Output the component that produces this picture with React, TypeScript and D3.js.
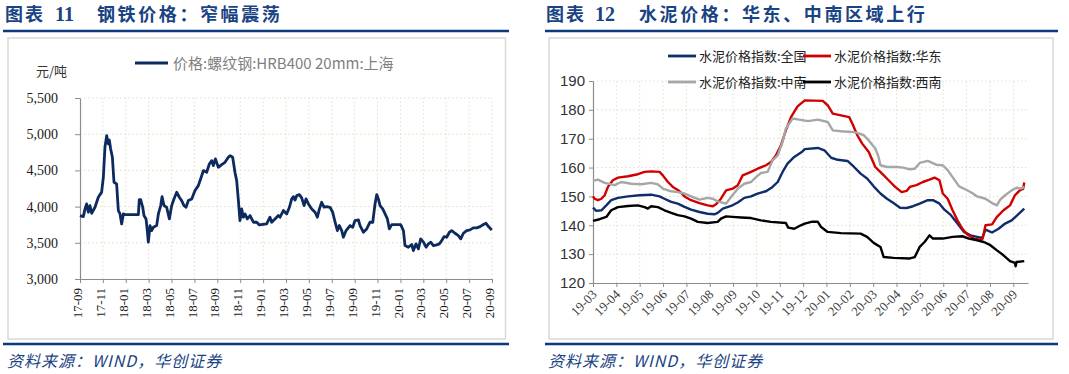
import * as d3 from 'd3';
import React, { useEffect, useRef } from 'react';

const WIDTH = 1069;
const HEIGHT = 374;

// 图表11：螺纹钢价格（元/吨），x = 自 2017-09 起的月数
const steelTickLabels = [
  '17-09', '17-11', '18-01', '18-03', '18-05', '18-07', '18-09', '18-11', '19-01', '19-03',
  '19-05', '19-07', '19-09', '19-11', '20-01', '20-03', '20-05', '20-07', '20-09',
];
const steelYTicks = [3000, 3500, 4000, 4500, 5000, 5500];
const steelPrice: [number, number][] = [
  [0, 3876], [0.29, 3862], [0.44, 3968], [0.58, 4037], [0.73, 3922], [0.87, 4014], [1.02, 3908],
  [1.31, 3991], [1.6, 4130], [1.89, 4200], [2.04, 4405], [2.18, 4819], [2.33, 4980], [2.48, 4865],
  [2.56, 4920], [2.68, 4796], [2.83, 4681], [2.97, 4336], [3.2, 4313], [3.35, 3945], [3.5, 3899],
  [3.64, 3761], [3.79, 3899], [3.93, 3890], [5.1, 3890], [5.18, 4097], [5.3, 4097], [5.48, 3991],
  [5.59, 3876], [5.77, 3830], [5.88, 3669], [5.97, 3508], [6.12, 3738], [6.26, 3669], [6.41, 3715],
  [6.7, 3738], [6.85, 3899], [7.05, 4014], [7.17, 4138], [7.34, 4014], [7.57, 3991], [7.81, 3830],
  [8.01, 4014], [8.21, 4106], [8.45, 4198], [8.68, 4129], [8.88, 4083], [9.09, 4014], [9.26, 3991],
  [9.47, 4083], [9.76, 4106], [10.05, 4221], [10.34, 4290], [10.54, 4382], [10.78, 4497],
  [11.07, 4474], [11.3, 4589], [11.51, 4635], [11.65, 4566], [11.83, 4658], [12.09, 4543],
  [12.38, 4580], [12.67, 4612], [12.96, 4681], [13.11, 4704], [13.34, 4681], [13.54, 4474],
  [13.69, 4359], [13.84, 4083], [13.98, 3807], [14.13, 3968], [14.27, 3853], [14.42, 3899],
  [14.62, 3830], [14.86, 3876], [15.15, 3784], [15.44, 3784], [15.67, 3747], [16.31, 3761],
  [16.6, 3853], [16.75, 3784], [17.04, 3830], [17.33, 3876], [17.48, 3853], [17.77, 3945],
  [18.06, 3899], [18.3, 3991], [18.5, 4106], [18.65, 4138], [18.79, 4090], [18.94, 4152],
  [19.17, 4166], [19.37, 4120], [19.58, 4014], [19.75, 4106], [19.96, 4037], [20.25, 3968],
  [20.54, 3922], [20.74, 3853], [20.92, 3968], [21.12, 4060], [21.32, 3991], [21.56, 4000],
  [21.85, 3991], [22.08, 3922], [22.29, 3784], [22.49, 3669], [22.66, 3738], [22.87, 3669],
  [23.01, 3577], [23.25, 3669], [23.6, 3738], [23.83, 3715], [24.03, 3807], [24.33, 3816],
  [24.47, 3738], [24.76, 3646], [25.05, 3692], [25.34, 3784], [25.58, 3784], [25.78, 4037],
  [25.93, 4166], [26.07, 4106], [26.22, 4014], [26.45, 3968], [26.66, 3899], [26.86, 3830],
  [27.03, 3692], [27.24, 3752], [27.67, 3752], [28.02, 3752], [28.26, 3669], [28.4, 3462],
  [28.69, 3439], [28.99, 3476], [29.13, 3393], [29.36, 3485], [29.57, 3416], [29.77, 3554],
  [30.01, 3508], [30.24, 3439], [30.44, 3485], [30.65, 3508], [30.88, 3462], [31.17, 3471],
  [31.4, 3485], [31.61, 3531], [31.81, 3586], [32.04, 3577], [32.28, 3646], [32.48, 3669],
  [32.77, 3632], [33.06, 3600], [33.27, 3554], [33.5, 3632], [33.79, 3669], [34.08, 3678],
  [34.37, 3706], [34.66, 3706], [34.96, 3724], [35.25, 3752], [35.48, 3770], [35.69, 3724],
  [35.98, 3678],
];

// 图表12：水泥价格指数，x = 自 2019-03 起的月数
const cementTickLabels = [
  '19-03', '19-04', '19-05', '19-06', '19-07', '19-08', '19-09', '19-10', '19-11', '19-12',
  '20-01', '20-02', '20-03', '20-04', '20-05', '20-06', '20-07', '20-08', '20-09',
];
const cementYTicks = [120, 130, 140, 150, 160, 170, 180, 190];
const cementNational: [number, number][] = [
  [0, 146.1], [0.14, 145.0], [0.36, 145.2], [0.57, 146.9], [0.78, 148.7], [1.07, 149.5], [1.5, 150.0],
  [1.99, 150.4], [2.49, 150.6], [2.85, 150.0], [3.06, 149.2], [3.35, 148.1], [3.63, 147.5],
  [3.92, 146.4], [4.2, 145.4], [4.56, 144.6], [4.91, 144.0], [5.2, 143.8], [5.34, 144.3],
  [5.56, 145.8], [5.91, 146.7], [6.2, 147.9], [6.48, 149.5], [6.77, 150.0], [7.05, 151.0],
  [7.41, 151.8], [7.69, 153.3], [7.91, 155.0], [8.12, 158.5], [8.33, 161.4], [8.62, 163.7],
  [8.97, 165.6], [9.07, 166.4], [9.63, 166.8], [9.91, 166.0], [10.2, 163.4], [10.48, 162.7],
  [10.9, 162.3], [11.18, 160.2], [11.46, 157.9], [11.74, 156.2], [12.02, 153.5], [12.31, 151.0],
  [12.59, 149.2], [12.87, 147.7], [13.15, 146.1], [13.43, 146.0], [13.71, 146.6], [13.99, 147.5],
  [14.34, 148.7], [14.56, 148.7], [14.84, 147.5], [15.05, 145.4], [15.33, 143.5], [15.61, 140.6],
  [15.89, 137.7], [16.17, 136.5], [16.45, 136.0], [16.67, 135.6], [16.81, 138.5], [17.09, 137.5],
  [17.37, 138.8], [17.65, 140.6], [17.93, 141.7], [18.21, 143.8], [18.47, 145.8],
];
const cementEast: [number, number][] = [
  [0, 150.0], [0.07, 149.2], [0.21, 148.7], [0.36, 149.2], [0.5, 150.4], [0.64, 153.3], [0.85, 155.6],
  [1.07, 156.5], [1.5, 157.0], [1.92, 157.7], [2.21, 158.5], [2.49, 158.7], [2.85, 158.5],
  [2.99, 157.3], [3.21, 155.0], [3.42, 153.3], [3.7, 151.9], [3.92, 150.0], [4.2, 148.7],
  [4.56, 147.7], [4.91, 146.9], [5.13, 146.6], [5.27, 147.3], [5.48, 149.2], [5.7, 152.1],
  [5.98, 152.7], [6.2, 153.9], [6.41, 157.3], [6.77, 158.5], [7.05, 159.6], [7.41, 160.8],
  [7.62, 161.9], [7.83, 164.2], [8.05, 167.7], [8.26, 172.9], [8.48, 177.5], [8.76, 181.2],
  [9.07, 183.3], [9.84, 183.1], [10.05, 181.6], [10.27, 178.7], [10.62, 178.1], [10.97, 177.5],
  [11.11, 175.2], [11.32, 171.2], [11.53, 168.3], [11.81, 165.4], [12.09, 160.2], [12.38, 157.9],
  [12.66, 155.6], [12.94, 153.3], [13.22, 151.5], [13.43, 151.9], [13.57, 153.3], [13.85, 153.9],
  [14.13, 155.0], [14.41, 155.8], [14.63, 156.5], [14.84, 155.6], [14.98, 151.0], [15.19, 149.2],
  [15.4, 145.2], [15.61, 141.7], [15.82, 138.8], [16.03, 136.8], [16.31, 135.4], [16.59, 135.0],
  [16.69, 135.4], [16.81, 140.0], [17.09, 140.3], [17.3, 142.9], [17.58, 145.2], [17.86, 146.9],
  [18.07, 150.4], [18.28, 152.1], [18.42, 152.6], [18.47, 154.8],
];
const cementCentralSouth: [number, number][] = [
  [0, 155.4], [0.21, 155.8], [0.5, 154.7], [0.93, 153.9], [1.21, 155.0], [1.64, 154.4], [2.07, 154.2],
  [2.49, 154.7], [2.78, 154.2], [2.99, 152.7], [3.28, 151.9], [3.63, 151.5], [3.92, 151.0],
  [4.2, 150.0], [4.56, 148.9], [4.91, 149.5], [5.13, 149.2], [5.34, 148.3], [5.7, 147.5],
  [5.91, 149.8], [6.2, 152.7], [6.48, 154.4], [6.77, 155.0], [6.98, 156.7], [7.19, 158.1],
  [7.48, 158.5], [7.69, 162.5], [7.91, 164.2], [8.12, 168.9], [8.26, 173.5], [8.55, 177.0],
  [8.83, 176.6], [9.21, 176.1], [9.63, 176.6], [10.05, 175.8], [10.27, 172.9], [10.62, 172.6],
  [11.18, 172.3], [11.32, 172.0], [11.6, 171.2], [11.81, 169.4], [12.09, 166.6], [12.23, 163.7],
  [12.31, 160.8], [12.59, 160.2], [13.01, 160.2], [13.29, 160.0], [13.57, 159.4], [13.78, 159.6],
  [13.99, 161.6], [14.34, 162.3], [14.7, 161.0], [14.98, 160.8], [15.19, 159.1], [15.4, 156.7],
  [15.68, 153.5], [15.96, 152.4], [16.24, 151.2], [16.45, 150.0], [16.81, 149.2], [17.09, 147.7],
  [17.3, 146.9], [17.44, 148.9], [17.65, 150.4], [17.93, 152.1], [18.14, 153.0], [18.33, 152.7],
  [18.47, 153.3],
];
const cementSouthwest: [number, number][] = [
  [0, 141.5], [0.28, 142.1], [0.57, 142.9], [0.78, 145.2], [1.07, 146.3], [1.5, 146.7], [1.92, 146.9],
  [2.21, 146.3], [2.35, 145.8], [2.49, 146.6], [2.78, 146.3], [3.06, 145.2], [3.35, 144.3],
  [3.63, 143.5], [3.92, 143.1], [4.2, 142.3], [4.49, 141.2], [4.91, 140.8], [5.34, 141.2],
  [5.48, 142.3], [5.7, 143.1], [5.98, 142.9], [6.34, 142.7], [6.77, 142.5], [7.19, 141.7],
  [7.62, 141.2], [8.26, 140.8], [8.36, 139.2], [8.62, 138.8], [8.9, 140.0], [9.07, 140.6],
  [9.35, 141.2], [9.63, 141.2], [9.77, 139.4], [10.05, 137.7], [10.62, 137.3], [11.46, 137.1],
  [11.74, 136.0], [12.02, 133.9], [12.31, 132.5], [12.45, 129.0], [12.87, 128.7], [13.57, 128.5],
  [13.78, 129.0], [13.99, 132.5], [14.2, 134.2], [14.41, 136.5], [14.56, 135.4], [14.98, 135.4],
  [15.4, 136.0], [15.82, 136.2], [16.1, 135.4], [16.45, 134.8], [16.74, 134.2], [17.02, 133.1],
  [17.3, 131.3], [17.58, 129.6], [17.86, 127.6], [18.07, 127.0], [18.1, 125.8], [18.14, 127.3],
  [18.47, 127.6],
];

const cementSeries = [
  { name: '水泥价格指数:全国', data: cementNational, color: '#0f2d6b' },
  { name: '水泥价格指数:华东', data: cementEast, color: '#d00000' },
  { name: '水泥价格指数:中南', data: cementCentralSouth, color: '#a6a6a6' },
  { name: '水泥价格指数:西南', data: cementSouthwest, color: '#000000' },
];

const TITLE_COLOR = '#1a4383';
const RULE_COLOR = '#0b3a7e';
const GRID_COLOR = '#e2dfc6';
const AXIS_COLOR = '#8c8c8c';
const SANS = '"Noto Sans CJK SC", "Noto Sans", sans-serif';
const SERIF = '"Liberation Serif", "DejaVu Serif", serif';

const App: React.FC = () => {
  const svgRef = useRef<SVGSVGElement>(null);

  useEffect(() => {
    if (!svgRef.current) return;
    const svg = d3.select(svgRef.current);
    svg.selectAll('*').remove();

    svg.append('rect').attr('width', WIDTH).attr('height', HEIGHT).attr('fill', '#fff');

    // Panel frames: titles, rules, boxes and source notes
    const panels = [
      { num: '11', title: '钢铁价格：窄幅震荡', x: 5, numX: 55, titleX: 97, rule: [3, 509], box: [8, 505.5] },
      { num: '12', title: '水泥价格：华东、中南区域上行', x: 546, numX: 595, titleX: 639, rule: [545, 1058], box: [549, 1053] },
    ];

    panels.forEach(p => {
      svg.append('text')
        .attr('x', p.x).attr('y', 21)
        .attr('font-family', SANS).attr('font-size', '18px').attr('font-weight', 'bold')
        .attr('letter-spacing', '2px')
        .attr('fill', TITLE_COLOR)
        .text('图表');
      svg.append('text')
        .attr('x', p.numX).attr('y', 21)
        .attr('font-family', SERIF).attr('font-size', '20px').attr('font-weight', 'bold')
        .attr('fill', TITLE_COLOR)
        .text(p.num);
      svg.append('text')
        .attr('x', p.titleX).attr('y', 21)
        .attr('font-family', SANS).attr('font-size', '18px').attr('font-weight', 'bold')
        .attr('letter-spacing', '2.6px')
        .attr('fill', TITLE_COLOR)
        .text(p.title);

      [31, 344].forEach(y => {
        svg.append('line')
          .attr('x1', p.rule[0]).attr('x2', p.rule[1])
          .attr('y1', y).attr('y2', y)
          .attr('stroke', RULE_COLOR).attr('stroke-width', 2.5);
      });

      svg.append('rect')
        .attr('x', p.box[0]).attr('y', 38)
        .attr('width', p.box[1] - p.box[0]).attr('height', 301)
        .attr('fill', 'none').attr('stroke', '#d9d9d9').attr('stroke-width', 1.5);

      svg.append('text')
        .attr('x', p.x + 2).attr('y', 367)
        .attr('font-family', SANS).attr('font-size', '16px').attr('font-style', 'italic')
        .attr('letter-spacing', '1px')
        .attr('fill', TITLE_COLOR)
        .text('资料来源：WIND，华创证券');
    });

    // ---------- 图表11 ----------
    const lx = d3.scaleLinear().domain([0, 36]).range([80, 492]);
    const ly = d3.scaleLinear().domain([3000, 5500]).range([279, 98]);
    const steelTickValues = d3.range(0, 37, 2);
    const left = svg.append('g');

    left.selectAll('line.hgrid')
      .data(steelYTicks.slice(1))
      .join('line')
      .attr('class', 'hgrid')
      .attr('x1', lx(0)).attr('x2', lx(36))
      .attr('y1', d => ly(d)).attr('y2', d => ly(d))
      .attr('stroke', GRID_COLOR).attr('stroke-dasharray', '1.5 2.5');

    left.selectAll('line.vgrid')
      .data(steelTickValues.slice(1))
      .join('line')
      .attr('class', 'vgrid')
      .attr('x1', d => lx(d)).attr('x2', d => lx(d))
      .attr('y1', ly(3000)).attr('y2', ly(5500))
      .attr('stroke', GRID_COLOR).attr('stroke-dasharray', '1.5 2.5');

    const lxAxis = left.append('g')
      .attr('transform', `translate(0, ${ly(3000)})`)
      .call(d3.axisBottom(lx)
        .tickValues(steelTickValues)
        .tickFormat((d, i) => steelTickLabels[i])
        .tickSize(4).tickSizeOuter(0));
    lxAxis.selectAll('text')
      .attr('x', -9).attr('y', 0).attr('dy', '0.12em')
      .attr('transform', 'rotate(-90)')
      .style('text-anchor', 'end')
      .attr('font-family', SERIF).attr('font-size', '13px').attr('fill', '#1a1a1a');

    const lyAxis = left.append('g')
      .attr('transform', `translate(${lx(0)}, 0)`)
      .call(d3.axisLeft(ly)
        .tickValues(steelYTicks)
        .tickFormat(d3.format(','))
        .tickSize(5).tickSizeOuter(0).tickPadding(17));
    lyAxis.selectAll('text')
      .attr('font-family', SERIF).attr('font-size', '14px').attr('fill', '#1a1a1a');

    [lxAxis, lyAxis].forEach(a => {
      a.select('.domain').attr('stroke', AXIS_COLOR).attr('stroke-width', 1.2);
      a.selectAll('.tick line').attr('stroke', AXIS_COLOR);
    });

    const steelLine = d3.line<[number, number]>().x(d => lx(d[0])).y(d => ly(d[1]));
    left.append('path')
      .datum(steelPrice)
      .attr('d', steelLine)
      .attr('fill', 'none')
      .attr('stroke', '#0d2a5e')
      .attr('stroke-width', 2.8)
      .attr('stroke-linejoin', 'round');

    left.append('text')
      .attr('x', 36).attr('y', 76)
      .attr('font-family', SANS).attr('font-size', '13px').attr('fill', '#333')
      .text('元/吨');

    left.append('line')
      .attr('x1', 135).attr('x2', 168).attr('y1', 63).attr('y2', 63)
      .attr('stroke', '#0d2a5e').attr('stroke-width', 3);
    left.append('text')
      .attr('x', 173).attr('y', 68.5)
      .attr('font-family', SANS).attr('font-size', '15px').attr('fill', '#7f7f7f')
      .text('价格:螺纹钢:HRB400 20mm:上海');

    // ---------- 图表12 ----------
    const rx = d3.scaleLinear().domain([0, 18.63]).range([593, 1028]);
    const ry = d3.scaleLinear().domain([120, 190]).range([283, 81]);
    const cementTickValues = d3.range(0, 19);
    const right = svg.append('g');

    right.selectAll('line.hgrid')
      .data(cementYTicks.slice(1))
      .join('line')
      .attr('class', 'hgrid')
      .attr('x1', rx(0)).attr('x2', rx(18.63))
      .attr('y1', d => ry(d)).attr('y2', d => ry(d))
      .attr('stroke', GRID_COLOR).attr('stroke-dasharray', '1.5 2.5');

    right.selectAll('line.vgrid')
      .data(cementTickValues.slice(1))
      .join('line')
      .attr('class', 'vgrid')
      .attr('x1', d => rx(d)).attr('x2', d => rx(d))
      .attr('y1', ry(120)).attr('y2', ry(190))
      .attr('stroke', GRID_COLOR).attr('stroke-dasharray', '1.5 2.5');

    const rxAxis = right.append('g')
      .attr('transform', `translate(0, ${ry(120)})`)
      .call(d3.axisBottom(rx)
        .tickValues(cementTickValues)
        .tickFormat((d, i) => cementTickLabels[i])
        .tickSize(4).tickSizeOuter(0));
    rxAxis.selectAll('text')
      .attr('x', 0).attr('y', 0).attr('dy', '0.35em')
      .attr('transform', 'translate(1, 9) rotate(-45)')
      .style('text-anchor', 'end')
      .attr('font-family', SERIF).attr('font-size', '13px').attr('fill', '#404040');

    const ryAxis = right.append('g')
      .attr('transform', `translate(${rx(0)}, 0)`)
      .call(d3.axisLeft(ry)
        .tickValues(cementYTicks)
        .tickSize(4).tickSizeOuter(0).tickPadding(4));
    ryAxis.selectAll('text')
      .attr('font-family', '"Liberation Sans", Arial, sans-serif').attr('font-size', '15px').attr('fill', '#333');

    [rxAxis, ryAxis].forEach(a => {
      a.select('.domain').attr('stroke', AXIS_COLOR).attr('stroke-width', 1.2);
      a.selectAll('.tick line').attr('stroke', AXIS_COLOR);
    });

    const cementLine = d3.line<[number, number]>().x(d => rx(d[0])).y(d => ry(d[1]));
    right.selectAll('path.series')
      .data(cementSeries)
      .join('path')
      .attr('class', 'series')
      .attr('d', d => cementLine(d.data))
      .attr('fill', 'none')
      .attr('stroke', d => d.color)
      .attr('stroke-width', 2.4)
      .attr('stroke-linejoin', 'round');

    // Legend, two rows of two
    const legend = right.selectAll('g.legend')
      .data(cementSeries)
      .join('g')
      .attr('class', 'legend')
      .attr('transform', (d, i) => `translate(${i % 2 === 0 ? 668 : 803}, ${i < 2 ? 56 : 82})`);
    legend.append('line')
      .attr('x1', 0).attr('x2', 28).attr('y1', 0).attr('y2', 0)
      .attr('stroke', d => d.color).attr('stroke-width', 2.8);
    legend.append('text')
      .attr('x', 31).attr('y', 4.5)
      .attr('font-family', SANS).attr('font-size', '13px').attr('fill', '#222')
      .text(d => d.name);
  }, []);

  return (
    <svg
      ref={svgRef}
      width={WIDTH}
      height={HEIGHT}
      style={{ position: 'absolute', left: 0, top: 0, display: 'block' }}
    />
  );
};

export default App;
